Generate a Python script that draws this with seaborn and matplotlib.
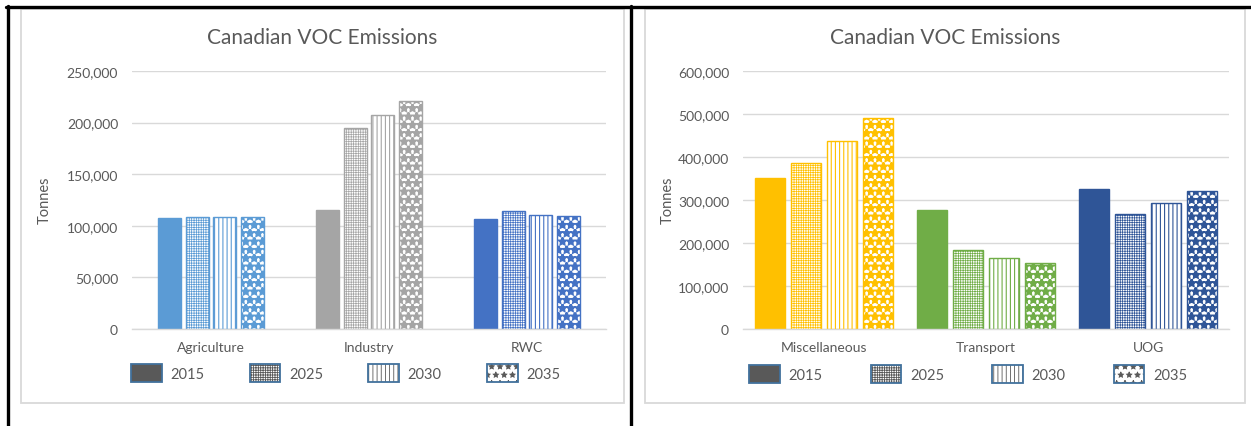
import matplotlib
matplotlib.use("Agg")
import pandas as pd
import matplotlib.pyplot as plt
import matplotlib.ticker as mticker
import seaborn as sns
from matplotlib.patches import Patch, Rectangle
from matplotlib.lines import Line2D
from matplotlib.legend_handler import HandlerTuple

# ── Data ──────────────────────────────────────────────────────────────────────
YEARS = ["2015", "2025", "2030", "2035"]

left_categories = ["Agriculture", "Industry", "RWC"]
left_2015 = [108000, 115500, 106700]
left_2025 = [108500, 194500, 114800]
left_2030 = [108500, 207500, 110000]
left_2035 = [108500, 220500, 109300]
left_colors = ["#5B9BD5", "#A5A5A5", "#4472C4"]

right_categories = ["Miscellaneous", "Transport", "UOG"]
right_2015 = [352000, 276700, 326400]
right_2025 = [385500, 184200, 267400]
right_2030 = [436800, 165500, 293800]
right_2035 = [489600, 153100, 320200]
right_colors = ["#FFC000", "#70AD47", "#2F5597"]

TITLE = "Canadian VOC Emissions"
YLABEL = "Tonnes"

# ── Style ─────────────────────────────────────────────────────────────────────
sns.set_style("white")
plt.rcParams["font.family"] = ["Lato", "DejaVu Sans"]
plt.rcParams["hatch.linewidth"] = 0.6
TEXT = "#595959"
GRID = "#D9D9D9"

# year -> (hatch pattern, hatch line width); 2015 is solid
HATCHES = {"2015": (None, 0), "2025": ("+++++++", 0.5),
           "2030": ("||||", 0.8), "2035": ("**", 1.8)}


def style_hatch(patch, year):
    pattern, lw = HATCHES[year]
    patch.set_hatch(pattern)
    if hasattr(patch, "set_hatch_linewidth"):
        patch.set_hatch_linewidth(lw)
    else:
        patch._hatch_linewidth = lw


def make_frame(categories, series):
    rows = []
    for year, vals in zip(YEARS, series):
        for cat, v in zip(categories, vals):
            rows.append({"Category": cat, "Year": year, "Tonnes": v})
    return pd.DataFrame(rows)


def draw_panel(ax, df, categories, colors, ymax, ystep, width, gap):
    sns.barplot(data=df, x="Category", y="Tonnes", hue="Year",
                order=categories, hue_order=YEARS, width=width, gap=gap,
                legend=False, ax=ax)
    for year, container in zip(YEARS, ax.containers):
        for bar, col in zip(container, colors):
            bar.set_linewidth(1.0)
            bar.set_edgecolor(col)
            if HATCHES[year][0] is None:
                bar.set_facecolor(col)
            else:
                bar.set_facecolor("white")
                style_hatch(bar, year)

    ax.set_ylim(0, ymax)
    ax.set_yticks(range(0, ymax + 1, ystep))
    ax.yaxis.set_major_formatter(mticker.FuncFormatter(lambda v, _: f"{v:,.0f}"))
    ax.yaxis.grid(True, color=GRID, linewidth=1.0)
    ax.set_axisbelow(True)
    for side in ("top", "right", "left"):
        ax.spines[side].set_visible(False)
    ax.spines["bottom"].set_color(GRID)
    ax.spines["bottom"].set_linewidth(1.0)
    ax.tick_params(axis="both", length=0, colors=TEXT, labelsize=10)
    ax.tick_params(axis="y", pad=10)
    ax.tick_params(axis="x", pad=9)
    ax.set_xlabel("")
    ax.set_ylabel("")


def add_legend(ax, x_fig, y_fig, colspace):
    handles = []
    for year in YEARS:
        if HATCHES[year][0] is None:
            inner = Patch(facecolor=TEXT, edgecolor=TEXT, linewidth=0)
        else:
            inner = Patch(facecolor="white", edgecolor=TEXT, linewidth=0)
            style_hatch(inner, year)
        outer = Patch(facecolor="none", edgecolor="#41719C", linewidth=1.3)
        handles.append((inner, outer))
    ax.legend(handles, YEARS, handler_map={tuple: HandlerTuple(ndivide=1, pad=0)},
              loc="center left", bbox_to_anchor=(x_fig, y_fig),
              bbox_transform=ax.figure.transFigure, ncol=4, frameon=False,
              handlelength=2.1, handleheight=1.6, handletextpad=0.6,
              columnspacing=colspace, borderpad=0, borderaxespad=0,
              fontsize=10.5, labelcolor=TEXT)


W, H = 1251, 427
fig = plt.figure(figsize=(W / 100, H / 100), dpi=100)


def fig_axes(x0, x1, y_top, y_bot):
    return fig.add_axes([x0 / W, 1 - y_bot / H, (x1 - x0) / W, (y_bot - y_top) / H])


# ── Left chart ────────────────────────────────────────────────────────────────
ax1 = fig_axes(132, 606, 72, 330)
df_left = make_frame(left_categories, [left_2015, left_2025, left_2030, left_2035])
draw_panel(ax1, df_left, left_categories, left_colors, 250000, 50000, 0.70, 0.16)
add_legend(ax1, 131 / W, 1 - 374 / H, 3.1)

# ── Right chart ───────────────────────────────────────────────────────────────
ax2 = fig_axes(743, 1229, 72, 330)
df_right = make_frame(right_categories, [right_2015, right_2025, right_2030, right_2035])
draw_panel(ax2, df_right, right_categories, right_colors, 600000, 100000, 0.89, 0.19)
add_legend(ax2, 749 / W, 1 - 375 / H, 3.3)

# titles and axis labels
for cx, lx in ((322, 45), (945, 668)):
    fig.text(cx / W, 1 - 38 / H, TITLE, ha="center", va="center",
             fontsize=15, color=TEXT)
    fig.text(lx / W, 1 - 200 / H, YLABEL, ha="center", va="center",
             rotation=90, fontsize=10.5, color=TEXT)

# chart-area frames (light gray) and black page borders
for x0, x1 in ((21, 624), (645, 1245)):
    fig.add_artist(Rectangle((x0 / W, 1 - 404 / H), (x1 - x0) / W, (404 - 10) / H,
                             transform=fig.transFigure, facecolor="none",
                             edgecolor=GRID, linewidth=1.3))
black = dict(transform=fig.transFigure, color="black", linewidth=2.4)
fig.add_artist(Line2D([6 / W, 1], [1 - 8 / H, 1 - 8 / H], **black))
fig.add_artist(Line2D([7.5 / W, 7.5 / W], [1 - 7 / H, 0], **black))
fig.add_artist(Line2D([631 / W, 631 / W], [1 - 7 / H, 0], **black))

fig.savefig("out.png", dpi=100)
